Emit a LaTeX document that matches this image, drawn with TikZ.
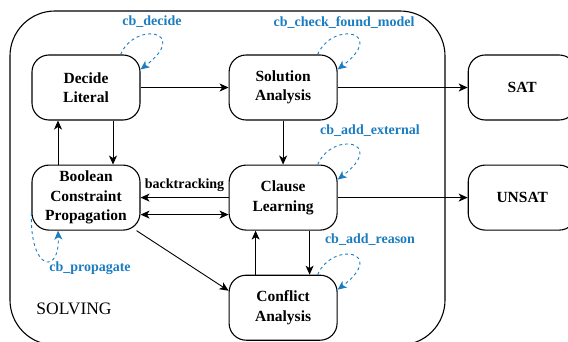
\documentclass[tikz,border=0pt]{standalone}
\usepackage{fontspec}
\setmainfont{Liberation Serif}
\usetikzlibrary{positioning,arrows.meta}
\definecolor{cbblue}{RGB}{27,125,193}

\tikzstyle{stage}=[rectangle, rounded corners=17pt, minimum width=108pt, minimum height=65pt, inner sep=2pt, align=center, draw=black, line width=1.1pt, font=\fontsize{15.5}{19.5}\selectfont\bfseries]
\tikzstyle{container}=[rectangle, rounded corners=45pt, minimum width=435pt, minimum height=334pt, draw=black, line width=1.1pt]
\tikzstyle{arrow}=[line width=0.9pt, ->, >={Stealth[length=9pt, width=8pt, inset=2.5pt]}]
\tikzstyle{cbloop}=[line width=0.9pt, ->, >={Stealth[length=9pt, width=8pt, inset=2.5pt]}, dashed, draw=cbblue, fill=none]
\tikzstyle{cblabel}=[text=cbblue, inner sep=0pt, font=\fontsize{14}{16}\selectfont\bfseries]

\begin{document}
\begin{tikzpicture}[x=1pt, y=-1pt, node distance=88pt]
\useasboundingbox (0,0) rectangle (568,342);

\node(solving)[container] at (227.5,178){};
\node(dec)[stage] at (86,87.5){Decide\\Literal};
\node(sol)[stage, right=88pt of dec]{Solution\\Analysis};
\node(sat)[stage, right=130pt of sol]{SAT};
\node(bcp)[stage, below=44pt of dec]{Boolean\\Constraint\\Propagation};
\node(learn)[stage, below=44pt of sol]{Clause\\Learning};
\node(unsat)[stage, right=130pt of learn]{UNSAT};
\node(conf)[stage, below=44pt of learn]{Conflict\\Analysis};
\node(name)[font=\fontsize{17.5}{20}\selectfont] at (74,309){SOLVING};

\draw[arrow](dec)--(sol);
\draw[arrow](sol)--(sat);
\draw[arrow]([xshift=27pt]dec.south)--([xshift=27pt]bcp.north);
\draw[arrow]([xshift=-28pt]bcp.north)--([xshift=-28pt]dec.south);
\draw[arrow](sol)--(learn);
\draw[arrow](learn)--node[above=2pt, font=\fontsize{14}{16}\selectfont\bfseries]{backtracking}(bcp);
\draw[arrow, <->]([yshift=-17pt]bcp.east)--([yshift=-17pt]learn.west);
\draw[arrow](bcp)--([yshift=17pt]conf.west);
\draw[arrow]([xshift=-27.5pt]conf.north)--([xshift=-27.5pt]learn.south);
\draw[arrow]([xshift=26.5pt]learn.south)--([xshift=26.5pt]conf.north);
\draw[arrow](learn)--(unsat);

\draw[cbloop]([xshift=-20pt]dec.north east) .. controls +(15,-34) and +(50,-38) .. ([yshift=-15pt]dec.north east);
\draw[cbloop]([xshift=-20pt]sol.north east) .. controls +(15,-34) and +(50,-38) .. ([yshift=-15pt]sol.north east);
\draw[cbloop]([xshift=-20pt]learn.north east) .. controls +(15,-34) and +(50,-38) .. ([yshift=-15pt]learn.north east);
\draw[cbloop]([xshift=-20pt]conf.north east) .. controls +(15,-34) and +(50,-38) .. ([yshift=-15pt]conf.north east);
\draw[cbloop]([yshift=-15.5pt]bcp.west) .. controls +(-2,58) and +(2,45) .. ([xshift=-28pt]bcp.south);

\node(cbdec)[cblabel] at (152,22){cb\_decide};
\node(cbcheck)[cblabel] at (344,23){cb\_check\_found\_model};
\node(cbext)[cblabel] at (370,131){cb\_add\_external};
\node(cbreason)[cblabel] at (370,240){cb\_add\_reason};
\node(cbprop)[cblabel] at (90,268){cb\_propagate};

\end{tikzpicture}
\end{document}
